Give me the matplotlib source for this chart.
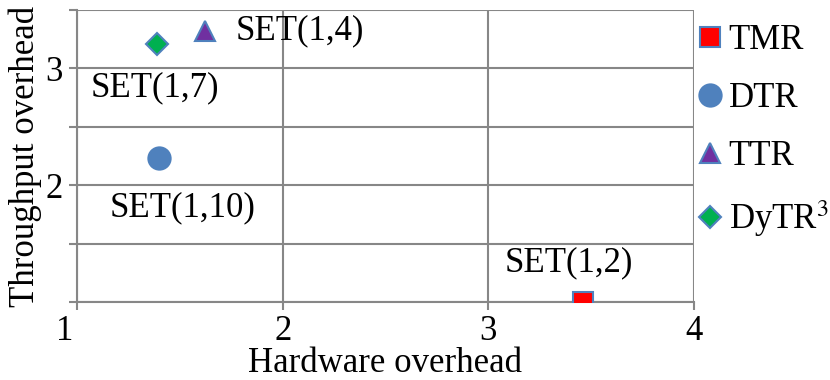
import matplotlib
matplotlib.use("Agg")
import matplotlib.pyplot as plt
import matplotlib.transforms as mtransforms

plt.rcParams['font.family'] = ['Liberation Serif', 'DejaVu Serif']
plt.rcParams['mathtext.fontset'] = 'stix'

# Data
series = ["TMR", "DTR", "TTR", "DyTR$^{3}$"]
hw_overhead = [3.46, 1.40, 1.62, 1.39]
tp_overhead = [1.00, 2.23, 3.32, 3.21]
point_labels = ["SET(1,2)", "SET(1,10)", "SET(1,4)", "SET(1,7)"]
x_ticks = [1, 2, 3, 4]
y_ticks = [1, 1.5, 2, 2.5, 3, 3.5]
y_ticklabels = ["", "", "2", "", "3", ""]

markers = ['s', 'o', '^', 'D']
faces = ['#FF0000', '#4F81BD', '#7030A0', '#00B050']
sizes = [14.5, 16, 15, 11.5]
# label offsets in pixels (dx, dy), alignment
offsets = [(-14, 39, 'center'), (23, -49, 'center'), (31, 0, 'left'), (-2, -44, 'center')]

FS = 25
GRID = '#878787'

fig = plt.figure(figsize=(8.3, 3.8), dpi=100)
ax = fig.add_axes([77/830, 78/380, (694-77)/830, (302-10)/380])

handles = []
for i in range(len(series)):
    h, = ax.plot([hw_overhead[i]], [tp_overhead[i]], linestyle='none',
                 marker=markers[i], markersize=sizes[i], markerfacecolor=faces[i],
                 markeredgecolor='#4F81BD', markeredgewidth=1.5, zorder=3,
                 clip_on=True, label=series[i])
    handles.append(h)
    dx, dy, ha = offsets[i]
    ax.annotate(point_labels[i], (hw_overhead[i], tp_overhead[i]),
                xytext=(dx * 72 / 100, dy * 72 / 100), textcoords='offset points',
                ha=ha, va='center', fontsize=FS, color='black', zorder=4)

ax.set_xlim(1, 4)
ax.set_ylim(1, 3.5)
ax.set_xticks(x_ticks)
ax.set_xticklabels([str(v) for v in x_ticks], fontsize=FS)
ax.set_yticks(y_ticks)
ax.set_yticklabels(y_ticklabels, fontsize=FS)

ax.grid(True, color=GRID, linewidth=1.5, zorder=1)
ax.set_axisbelow(True)
for side in ['top', 'right']:
    ax.spines[side].set_visible(False)
for side in ['left', 'bottom']:
    ax.spines[side].set_color(GRID)
    ax.spines[side].set_linewidth(1.5)
ax.tick_params(axis='both', color=GRID, width=1.5, length=6, pad=4)
ax.tick_params(axis='x', pad=3)

# shift the "1" x label left a little as in reference
lbl = ax.get_xticklabels()[0]
lbl.set_transform(lbl.get_transform() + mtransforms.ScaledTranslation(-12/100, 0, fig.dpi_scale_trans))

ax.set_xlabel("Hardware overhead", fontsize=FS, labelpad=0)
ax.set_ylabel("Throughput overhead", fontsize=FS, labelpad=3)

leg = fig.legend(handles=handles, labels=series, loc='upper left',
                 bbox_to_anchor=(699/830, 1 - 24/380), frameon=False,
                 fontsize=FS, handlelength=0.65, handletextpad=0.2,
                 labelspacing=0.72, borderpad=0, borderaxespad=0, numpoints=1)

fig.savefig("out.png", dpi=100)
